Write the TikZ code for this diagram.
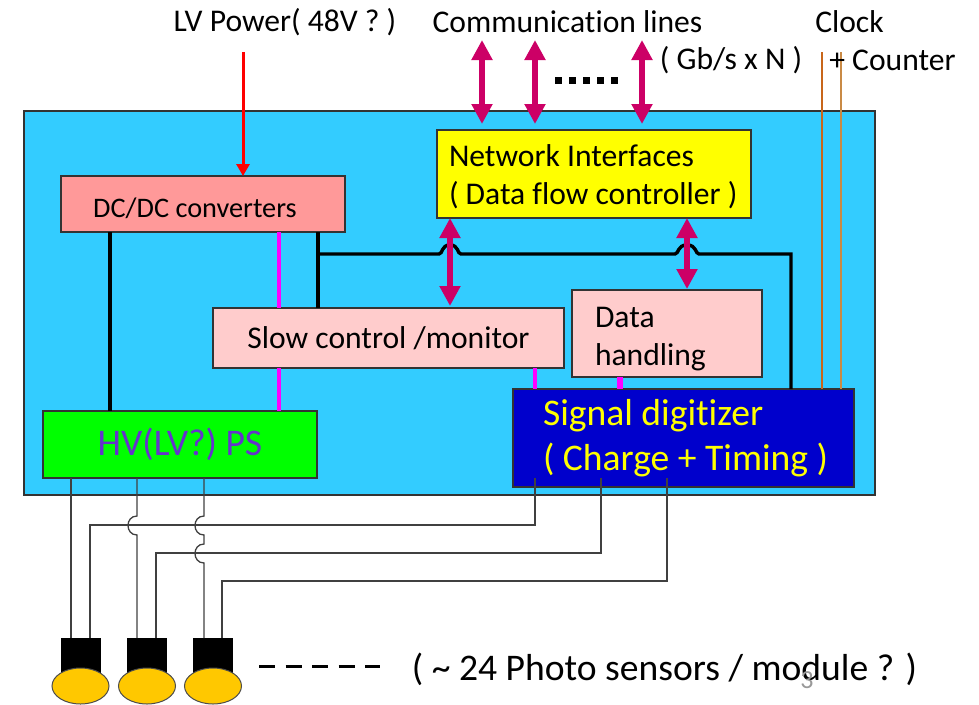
\documentclass[tikz,border=0pt]{standalone}
\usepackage{fontspec}
\setmainfont[Ligatures=NoCommon]{Carlito}
\usetikzlibrary{arrows.meta,shapes.geometric}
\definecolor{panelblue}{HTML}{33CCFF}
\definecolor{dcred}{HTML}{FF9999}
\definecolor{palepink}{HTML}{FFCCCC}
\definecolor{darkblue}{HTML}{0000CC}
\definecolor{berry}{HTML}{CC0066}
\definecolor{purpletext}{HTML}{6633CC}
\definecolor{amber}{HTML}{FFC800}
\definecolor{orangeA}{HTML}{C8661A}
\definecolor{orangeB}{HTML}{C98A45}
\definecolor{wiregray}{HTML}{404040}
\definecolor{pureyellow}{HTML}{FFFF00}
\definecolor{puremagenta}{HTML}{FF00FF}
\definecolor{puregreen}{HTML}{00FF00}
\definecolor{purered}{HTML}{FF0000}
\tikzset{
  x=1pt,y=-1pt,
  box/.style={draw=black!80,line width=1.2pt,inner sep=0pt,outer sep=0pt,anchor=north west},
  lbl/.style={inner sep=0pt,outer sep=0pt,font=\fontsize{31.6}{36}\selectfont},
  big/.style={font=\fontsize{37.6}{42}\selectfont},
  dbl/.style={berry,line width=6pt,{Triangle[width=20pt,length=20pt]}-{Triangle[width=20pt,length=20pt]}},
  hair/.style={wiregray,line width=1.3pt},
  thickblk/.style={black,line width=3.4pt},
  mag/.style={puremagenta,line width=3.5pt},
  sensorbody/.style={fill=black,draw=black,minimum width=39pt,minimum height=36pt,inner sep=0pt,outer sep=0pt,anchor=north},
  sensorlens/.style={ellipse,fill=amber,draw=black!70,line width=1pt,minimum width=57pt,minimum height=36pt,inner sep=0pt,outer sep=0pt},
  dotnode/.style={fill=black,minimum size=7pt,inner sep=0pt,outer sep=0pt},
}
\begin{document}
\begin{tikzpicture}
\useasboundingbox (0,0) rectangle (979,704);
% panel
\node[box,fill=panelblue,minimum width=851pt,minimum height=384pt] (panel) at (24,111) {};
% x and y guides
\coordinate (xpa) at (279,0);\coordinate (xpb) at (535,0);\coordinate (xpc) at (620,0);
\coordinate (xk) at (110,0);\coordinate (xl) at (318,0);\coordinate (xr) at (791,0);
\coordinate (xa1) at (482,0);\coordinate (xa2) at (535,0);\coordinate (xa3) at (642,0);
\coordinate (xa4) at (450,0);\coordinate (xa5) at (687,0);
\coordinate (xo1) at (822,0);\coordinate (xo2) at (841,0);
\coordinate (xw1) at (71,0);\coordinate (xw2) at (137,0);\coordinate (xw3) at (204,0);
\coordinate (xs1) at (90,0);\coordinate (xs2) at (156,0);\coordinate (xs3) at (222,0);
\coordinate (xd2) at (601,0);\coordinate (xd3) at (667,0);
\coordinate (yb) at (0,254);\coordinate (yc) at (0,40);\coordinate (yd) at (0,124);
\coordinate (ys1) at (0,525);\coordinate (ys2) at (0,553);\coordinate (ys3) at (0,581);
\coordinate (lvstart) at (243,52);
\coordinate (xo) at (0,52);
\coordinate (j1a) at (0,516);\coordinate (j1b) at (0,535);
\coordinate (j2a) at (0,544);\coordinate (j2b) at (0,563);
\coordinate (arrowEndSlow) at (450,306);
\coordinate (arrowEndData) at (687,289);
% boxes
\node[box,fill=dcred,minimum width=284pt,minimum height=56pt] (dcdc) at (61,176) {};
\node[box,fill=pureyellow,minimum width=314pt,minimum height=88pt] (net) at (437,130) {};
\node[box,fill=palepink,minimum width=351pt,minimum height=60pt] (slow) at (213,308) {};
\node[box,fill=palepink,minimum width=190pt,minimum height=87pt] (data) at (572,290) {};
\node[box,fill=darkblue,minimum width=341pt,minimum height=98pt] (sig) at (513,389) {};
\node[box,fill=puregreen,minimum width=274pt,minimum height=67pt] (hv) at (43,411) {};
% sensors
\node[sensorbody] (c1) at (80.5,638) {};
\node[sensorbody] (c2) at (147,638) {};
\node[sensorbody] (c3) at (213,638) {};
\node[sensorlens] (e1) at (80.5,686) {};
\node[sensorlens] (e2) at (147,686) {};
\node[sensorlens] (e3) at (213,686) {};
% power and control wires
\draw[thickblk] (dcdc.south -| xk) -- (hv.north -| xk);
\draw[thickblk] (dcdc.south -| xl) -- (slow.north -| xl);
\draw[thickblk] (xl |- yb) -- (439,254) .. controls (443,254) and (441,245) .. (450,245) .. controls (459,245) and (457,254) .. (461,254)
  -- (675,254) .. controls (679,254) and (677,245) .. (687,245) .. controls (697,245) and (695,254) .. (699,254)
  -- (xr |- yb) -- (sig.north -| xr);
\draw[mag] (dcdc.south -| xpa) -- (slow.north -| xpa);
\draw[mag] (slow.south -| xpa) -- (hv.north -| xpa);
\draw[mag] (slow.south -| xpb) -- (sig.north -| xpb);
\draw[puremagenta,line width=6pt] (data.south -| xpc) -- (sig.north -| xpc);
% orange
\draw[orangeA,line width=2.2pt] (xo1 |- xo) -- (sig.north -| xo1);
\draw[orangeB,line width=2.2pt] (xo2 |- xo) -- (sig.north -| xo2);
% arrows
\draw[purered,line width=3pt,-{Triangle[width=13pt,length=12pt]}] (lvstart) -- (dcdc.north -| lvstart);
\draw[dbl] (xa1 |- yc) -- (xa1 |- yd);
\draw[dbl] (xa2 |- yc) -- (xa2 |- yd);
\draw[dbl] (xa3 |- yc) -- (xa3 |- yd);
\draw[dbl] (net.south -| xa4) -- (arrowEndSlow);
\draw[dbl] (net.south -| xa5) -- (arrowEndData);
% dots
\node[dotnode] (d1) at (558,80) {};
\node[dotnode] (d2) at (572,80) {};
\node[dotnode] (d3) at (586,80) {};
\node[dotnode] (d4) at (600,80) {};
\node[dotnode] (d5) at (614,80) {};
% sensor wires
\draw[hair] (hv.south -| xw1) -- (c1.north -| xw1);
\draw[hair] (hv.south -| xw2) -- (xw2 |- j1a) .. controls +(-12,0) and +(-12,0) .. (xw2 |- j1b) -- (c2.north -| xw2);
\draw[hair] (hv.south -| xw3) -- (xw3 |- j1a) .. controls +(-12,0) and +(-12,0) .. (xw3 |- j1b) -- (xw3 |- j2a)
  .. controls +(-12,0) and +(-12,0) .. (xw3 |- j2b) -- (c3.north -| xw3);
\draw[hair] (c1.north -| xs1) -- (xs1 |- ys1) -- (xpb |- ys1) -- (xpb |- hv.south);
\draw[hair] (c2.north -| xs2) -- (xs2 |- ys2) -- (xd2 |- ys2) -- (xd2 |- hv.south);
\draw[hair] (c3.north -| xs3) -- (xs3 |- ys3) -- (xd3 |- ys3) -- (xd3 |- hv.south);
% dashes
\coordinate (dashA) at (259,666);
\coordinate (dashB) at (380,666);
\draw[black,line width=3pt,dash pattern=on 16pt off 10.5pt] (dashA) -- (dashB);
% labels
\node[lbl] (t1) at (285,22) {LV Power( 48V ? )};
\node[lbl] (t2) at (567.5,22) {Communication lines};
\node[lbl] (t3) at (731,60) {( Gb/s x N )};
\node[lbl] (t4) at (849.5,22) {Clock};
\node[lbl] (t5) at (892.5,60) {+ Counter};
\node[lbl,anchor=base west] (t6) at (449,166) {Network Interfaces};
\node[lbl,anchor=base west] (t7) at (449,204) {( Data flow controller )};
\node[lbl,font=\fontsize{28.3}{33}\selectfont] (t8) at (195,208) {DC/DC converters};
\node[lbl] (t9) at (388.5,338) {Slow control /monitor};
\node[lbl,anchor=base west] (t10) at (595,327) {Data};
\node[lbl,anchor=base west] (t11) at (595,365) {handling};
\node[lbl,big,anchor=base west,text=pureyellow] (t12) at (543,425) {Signal digitizer};
\node[lbl,big,anchor=base west,text=pureyellow] (t13) at (543,470) {( Charge + Timing )};
\node[lbl,big,text=purpletext] (t14) at (180,444) {HV(LV?) PS};
\node[lbl,big] (t15) at (664.5,669) {( \textasciitilde{} 24 Photo sensors / module ? )};
\node[lbl,text=black!40,font=\fontsize{26}{30}\selectfont] (t16) at (807,680) {3};
\end{tikzpicture}
\end{document}
